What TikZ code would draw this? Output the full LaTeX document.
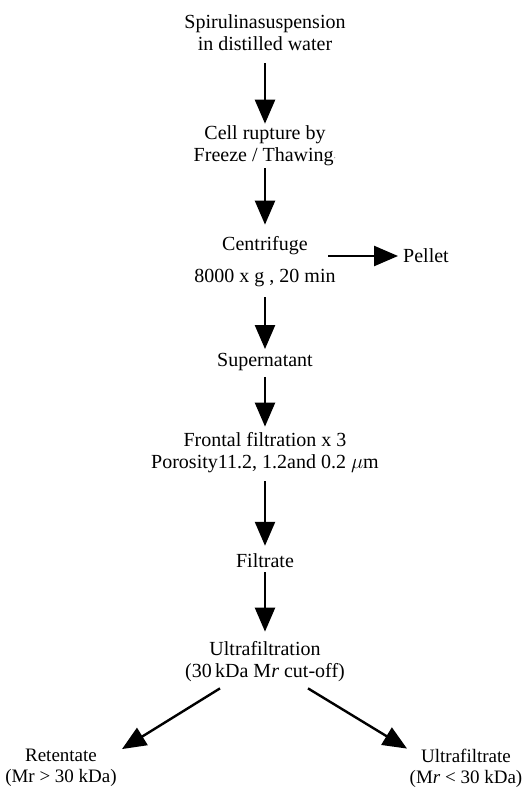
\documentclass[tikz,border=0pt]{standalone}
\usepackage{fontspec}
\setmainfont{Liberation Serif}
\usetikzlibrary{arrows.meta, positioning}
\tikzset{
  flow/.style={-{Triangle[length=24pt, width=20pt]}, line width=2.4pt}, % the thick arrows
  every node/.style={font=\fontsize{20}{22}\selectfont, align=center, inner sep=0pt},
  small/.style={font=\fontsize{19}{21}\selectfont}, % the two results at the bottom
}

\begin{document}
\begin{tikzpicture}[x=1pt, y=-1pt]
    \useasboundingbox (0,0) rectangle (525,790);

    \node (suspension) at (265,33) {Spirulinasuspension\\in distilled water};
    \node (rupture) at (265,146) {Cell rupture by\\Freeze / Thawing\raisebox{1pt}{\small$\cdot$}};
    \node (centrifuge) at (265,262) {Centrifuge\\[10pt]8000 x g , 20 min};
    \node[inner sep=5pt] (pellet) at (426,256) {Pellet};
    \node (supernatant) at (265,362) {Supernatant};
    \node (frontal) at (265,453) {Frontal filtration x 3\\Porosity11.2, 1.2and 0.2 $\mu$m};
    \node (filtrate) at (265,561) {Filtrate};
    \node (ultra) at (265,662) {Ultrafiltration\\(30\,kDa M\textit{r} cut-off)};
    \node[small] (retentate) at (61,768) {Retentate\\(Mr > 30 kDa)};
    \node[small] (ultrafiltrate) at (466,768) {Ultrafiltrate\\(M\textit{r} < 30 kDa)};

    \draw[flow, shorten <=12pt, shorten >=2pt] (suspension) -- (rupture);
    \draw[flow, shorten <=2pt, shorten >=12pt] (rupture) -- (centrifuge);
    \draw[flow, shorten <=10pt, shorten >=4pt] (centrifuge) -- (supernatant);
    \draw[flow] ([xshift=-70pt]pellet.west) -- (pellet.west);
    \draw[flow, shorten <=6pt, shorten >=6pt] (supernatant) -- (frontal);
    \draw[flow, shorten <=8pt, shorten >=8pt] (frontal) -- (filtrate);
    \draw[flow, shorten <=4pt, shorten >=10pt] (filtrate) -- (ultra);
    \draw[flow] ([xshift=-45pt, yshift=-6pt]ultra.south) -- ([xshift=61pt]retentate.north);
    \draw[flow] ([xshift=43pt, yshift=-6pt]ultra.south) -- ([xshift=-59pt]ultrafiltrate.north);
\end{tikzpicture}
\end{document}
